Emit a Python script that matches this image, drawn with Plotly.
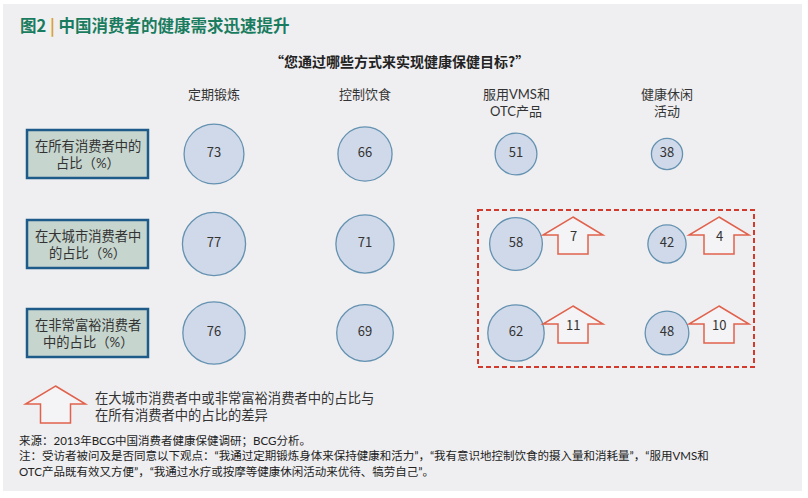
import plotly.graph_objects as go

# ---------------- data ----------------
categories = [["定期锻炼"], ["控制饮食"], ["服用VMS和", "OTC产品"], ["健康休闲", "活动"]]
row_labels = [["在所有消费者中的", "占比（%）"], ["在大城市消费者中", "的占比（%）"], ["在非常富裕消费者", "中的占比（%）"]]
all_consumers = [73, 66, 51, 38]
big_city = [77, 71, 58, 42]
very_affluent = [76, 69, 62, 48]
highlight_cols = [2, 3]   # columns compared with all consumers

title_text = "图2 <span style='color:#d9a12b'>|</span> 中国消费者的健康需求迅速提升"
question = "“您通过哪些方式来实现健康保健目标?”"
legend_lines = ["在大城市消费者中或非常富裕消费者中的占比与", "在所有消费者中的占比的差异"]
source_lines = [
    "来源：2013年BCG中国消费者健康保健调研；BCG分析。",
    "注：受访者被问及是否同意以下观点：“我通过定期锻炼身体来保持健康和活力”，“我有意识地控制饮食的摄入量和消耗量”，“服用VMS和",
    "OTC产品既有效又方便”，“我通过水疗或按摩等健康休闲活动来优待、犒劳自己”。",
]

# ---------------- layout constants ----------------
W, H = 808, 498
col_x = [214, 365, 516, 667]
row_y = [154, 244, 333]
arrow_dx = [57, 52]
FONT = "Noto Sans CJK SC"
FONT_ML = "Lato, Noto Sans CJK SC"   # for stacked lines (tighter line box)
BG = "#efeff1"
CIRCLE_FILL = "#c3d1e6"
CIRCLE_LINE = "#2b6b97"
ARROW_LINE = "#e0614c"
TXT = "#333333"

rows = [all_consumers, big_city, very_affluent]

fig = go.Figure()
shapes = []
annotations = []

def label(x, y, text, size=13, color=TXT, xanchor="center", bold=False, family=FONT):
    annotations.append(dict(x=x, y=y, xref="x", yref="y",
                            text=f"<b>{text}</b>" if bold else text,
                            showarrow=False, xanchor=xanchor, yanchor="middle",
                            borderpad=0,
                            font=dict(family=family, size=size, color=color)))

# panel background
shapes.append(dict(type="rect", xref="x", yref="y", x0=3, y0=4, x1=802, y1=491,
                   fillcolor=BG, line=dict(width=0), layer="below"))

# circles
for r, vals in enumerate(rows):
    sizes = []
    for c, v in enumerate(vals):
        factor = 0.91 if (r > 0 and c in highlight_cols) else 0.82
        sizes.append(v * factor)
    fig.add_trace(go.Scatter(
        x=col_x, y=[row_y[r]] * len(vals), mode="markers+text",
        text=[str(v) for v in vals], textposition="middle center",
        textfont=dict(family=FONT, size=13, color=TXT),
        marker=dict(size=sizes, color=CIRCLE_FILL,
                    line=dict(color=CIRCLE_LINE, width=1.3)),
        hoverinfo="skip", showlegend=False))

def arrow_path(cx, wy):
    return (f"M {cx},{wy-18} L {cx+30},{wy} L {cx+15},{wy} L {cx+15},{wy+19} "
            f"L {cx-15},{wy+19} L {cx-15},{wy} L {cx-30},{wy} Z")

# difference arrows
for r in (1, 2):
    for k, c in enumerate(highlight_cols):
        diff = rows[r][c] - all_consumers[c]
        cx = col_x[c] + arrow_dx[k]
        wy = row_y[r] - 9
        shapes.append(dict(type="path", xref="x", yref="y", path=arrow_path(cx, wy),
                           fillcolor="#f4f4f6", line=dict(color=ARROW_LINE, width=1.5)))
        label(cx, wy, str(diff))

# dashed highlight box
shapes.append(dict(type="rect", xref="x", yref="y", x0=478, y0=210, x1=754, y1=367,
                   line=dict(color="#d13a2c", width=2, dash="5px,3px")))

# row label boxes
for r, lines in enumerate(row_labels):
    shapes.append(dict(type="rect", xref="x", yref="y", x0=27, y0=row_y[r] - 24,
                       x1=148, y1=row_y[r] + 24, fillcolor="#c6d5cd",
                       line=dict(color="#1e5b8a", width=2.5)))
    label(87.5, row_y[r] - 8, lines[0], size=13.3, family=FONT_ML)
    label(87.5, row_y[r] + 9, lines[1], size=13.3, family=FONT_ML)

# column headers
for c, lines in enumerate(categories):
    for i, ln in enumerate(lines):
        label(col_x[c], 94 + i * 17, ln, family=FONT_ML)

# title & question
label(19, 25, title_text, size=16.5, color="#1a7c5f", xanchor="left", bold=True)
label(399, 61, question, size=14, color="#222222", bold=True)

# legend
shapes.append(dict(type="path", xref="x", yref="y", path=arrow_path(55.5, 404),
                   fillcolor="#f4f4f6", line=dict(color=ARROW_LINE, width=1.5)))
for i, ln in enumerate(legend_lines):
    label(94, 398 + i * 17, ln, size=13.3, xanchor="left", family=FONT_ML)

# source / notes
for i, ln in enumerate(source_lines):
    label(18, 440 + i * 15.5, ln, size=11.5, color="#222222", xanchor="left", family=FONT_ML)

fig.update_layout(
    width=W, height=H, margin=dict(l=0, r=0, t=0, b=0),
    paper_bgcolor="white", plot_bgcolor="white",
    xaxis=dict(range=[0, W], visible=False, fixedrange=True),
    yaxis=dict(range=[H, 0], visible=False, fixedrange=True),
    shapes=shapes, annotations=annotations,
)

fig.write_html("out.html", config={"displayModeBar": False},
               post_script="document.body.style.margin='0';document.body.style.overflow='hidden';")
